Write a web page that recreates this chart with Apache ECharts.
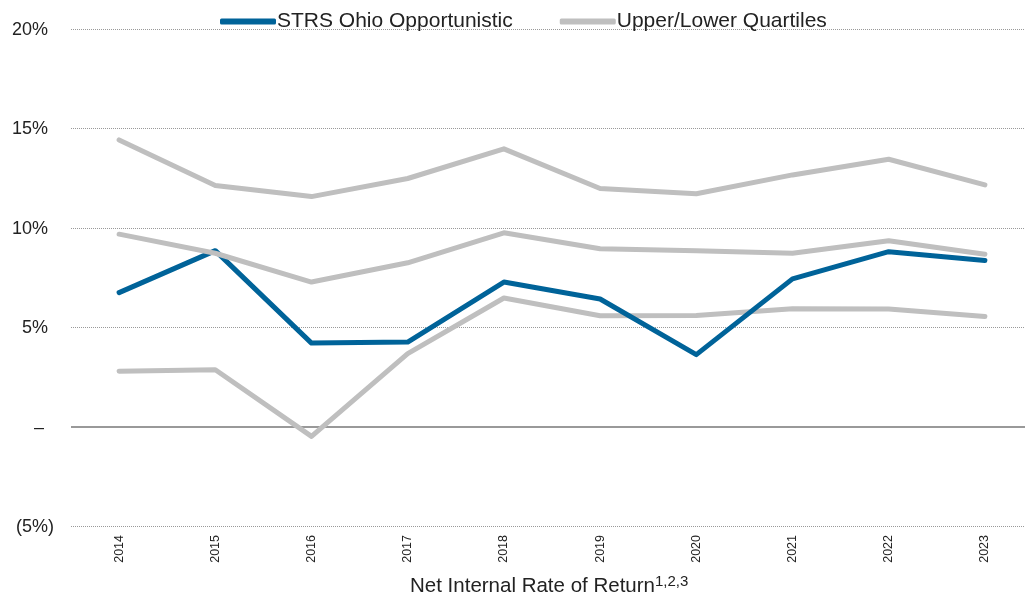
<!DOCTYPE html>
<html>
<head>
<meta charset="utf-8">
<script src="https://cdn.jsdelivr.net/npm/echarts@6/dist/echarts.min.js"></script>
<style>
    html, body { margin: 0; padding: 0; background: #fff; }
    #main { width: 1025px; height: 598px; }
</style>
</head>
<body>
<div id="main"></div>
<script>
// 年份
var years = ["2014", "2015", "2016", "2017", "2018", "2019", "2020", "2021", "2022", "2023"];
// STRS Ohio 机会型
var strs = [6.74, 8.85, 4.2, 4.25, 7.27, 6.42, 3.62, 7.43, 8.8, 8.35];
// 上四分位
var upper = [14.42, 12.13, 11.57, 12.48, 13.97, 11.98, 11.71, 12.66, 13.45, 12.16];
// 中位数
var median = [9.68, 8.72, 7.27, 8.24, 9.75, 8.95, 8.84, 8.72, 9.35, 8.67];
// 下四分位
var lower = [2.78, 2.86, -0.49, 3.67, 6.47, 5.58, 5.59, 5.93, 5.91, 5.54];

var blue = "#006399";
var grey = "#bfbfbf";
var textColor = "#222";
var font = "Liberation Sans, Arial, sans-serif";

var myChart = echarts.init(document.getElementById("main"));

function yLabel(v) {
    if (v === 0) return "{z|–}";
    if (v < 0) return "{n|(" + Math.abs(v) + "%)}";
    return "{p|" + v + "%}";
}

var option = {
    animation: false,
    textStyle: { fontFamily: font },
    title: {
        text: "{a|Net Internal Rate of Return}{b|1,2,3}",
        left: 410,
        top: 574,
        padding: 0,
        textStyle: {
            rich: {
                a: { fontSize: 20.5, color: textColor, fontFamily: font, fontWeight: "normal", lineHeight: 24 },
                b: { fontSize: 15, color: textColor, fontFamily: font, fontWeight: "normal", verticalAlign: "top", lineHeight: 24, padding: [0, 0, 9, 0] },
            },
        },
    },
    legend: {
        left: 215,
        top: 6,
        itemWidth: 56,
        itemHeight: 6,
        itemGap: 47,
        icon: "roundRect",
        data: ["STRS Ohio Opportunistic", "Upper/Lower Quartiles"],
        textStyle: { fontSize: 21, color: textColor, fontFamily: font, padding: [0, 0, 0, -4] },
    },
    grid: {
        left: 71,
        width: 962,
        top: 29,
        bottom: 72,
        outerBoundsMode: "none",
    },
    xAxis: {
        type: "category",
        data: years,
        boundaryGap: true,
        axisLine: { show: false, onZero: false },
        axisTick: { show: false },
        axisLabel: {
            rotate: 90,
            margin: 9,
            fontSize: 12.5,
            color: textColor,
            fontFamily: font,
        },
    },
    yAxis: {
        type: "value",
        min: -5,
        max: 20,
        interval: 5,
        axisLine: { show: false },
        axisTick: { show: false },
        axisLabel: {
            margin: 17,
            formatter: yLabel,
            rich: {
                p: { fontSize: 18, color: textColor, fontFamily: font, padding: [2, 6, 0, 0] },
                n: { fontSize: 18, color: textColor, fontFamily: font, padding: [2, 0, 0, 0] },
                z: { fontSize: 18, color: textColor, fontFamily: font, padding: [2, 10, 0, 0] },
            },
        },
        splitLine: {
            lineStyle: { color: "#999", type: [1, 1], width: 1 },
        },
    },
    series: [
        {
            name: "Upper/Lower Quartiles",
            type: "line",
            data: upper,
            symbol: "none",
            color: grey,
            lineStyle: { width: 5, color: grey, cap: "round", join: "round" },
            markLine: {
                silent: true,
                symbol: "none",
                label: { show: false },
                lineStyle: { color: "#999", type: "solid", width: 2 },
                data: [{ yAxis: 0 }],
                z: 1,
            },
        },
        {
            name: "Upper/Lower Quartiles",
            type: "line",
            data: lower,
            symbol: "none",
            color: grey,
            lineStyle: { width: 5, color: grey, cap: "round", join: "round" },
        },
        {
            name: "STRS Ohio Opportunistic",
            type: "line",
            data: strs,
            symbol: "none",
            color: blue,
            lineStyle: { width: 5, color: blue, cap: "round", join: "round" },
        },
        {
            name: "Median",
            type: "line",
            data: median,
            symbol: "none",
            color: grey,
            lineStyle: { width: 5, color: grey, cap: "round", join: "round" },
        },
    ],
};

myChart.setOption(option);
</script>
</body>
</html>
